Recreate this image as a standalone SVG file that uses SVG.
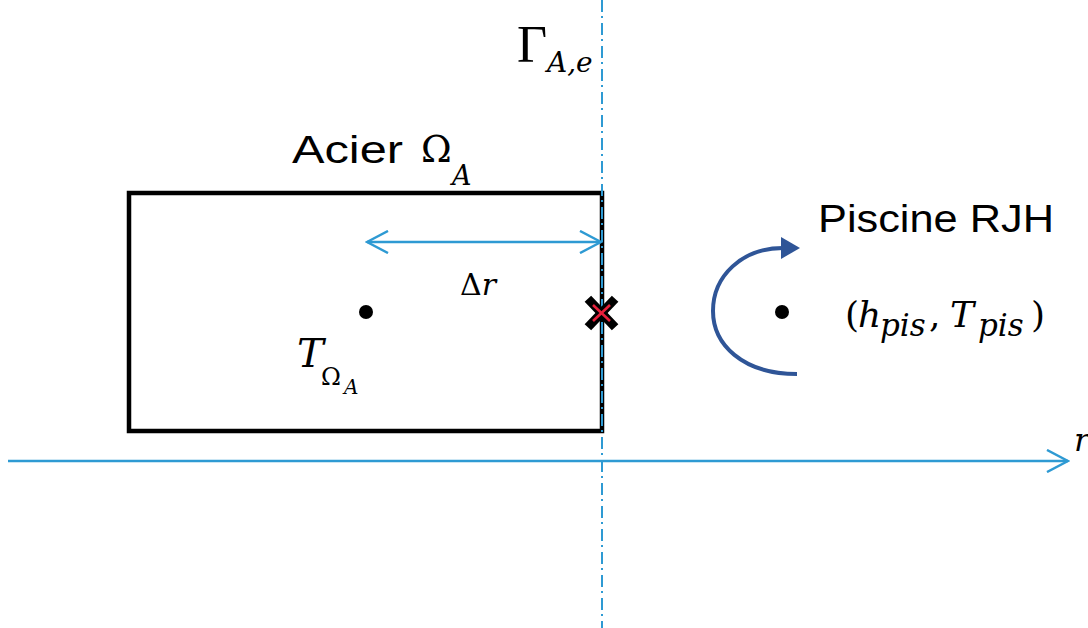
<svg xmlns="http://www.w3.org/2000/svg" width="1088" height="628" viewBox="0 0 1088 628">
<style>
.sans{font-family:"Liberation Sans","Open Sans",Arial,sans-serif;fill:#000}
.m{font-family:"DejaVu Serif","Liberation Serif",serif;fill:#000}
.g{font-family:"Liberation Serif","DejaVu Serif",serif;fill:#000}
.it{font-style:italic}
.ax{stroke:#2E9AD3;fill:none;stroke-width:2.5}
</style>
<defs>
<marker id="open" viewBox="0 0 24 24" refX="22" refY="12" markerWidth="24" markerHeight="24" markerUnits="userSpaceOnUse" orient="auto-start-reverse">
<path d="M1,1 L22,12 L1,23" fill="none" stroke="#2E9AD3" stroke-width="2.5"/>
</marker>
<marker id="tri" viewBox="0 0 20 24" refX="2" refY="12" markerWidth="20" markerHeight="24" markerUnits="userSpaceOnUse" orient="auto">
<path d="M0,1 L19,12 L0,23 Z" fill="#2F5597"/>
</marker>
</defs>
<rect width="1088" height="628" fill="#fff"/>

<g id="domaine-acier">
<rect x="129" y="193" width="473" height="238" fill="none" stroke="#000" stroke-width="4.5"/>
<text class="sans" x="292" y="163" font-size="38" textLength="111" lengthAdjust="spacingAndGlyphs">Acier</text>
<text class="m" x="421" y="162" font-size="37">Ω</text>
<text class="m it" x="452" y="185" font-size="27">A</text>
<circle cx="366" cy="312" r="7" fill="#000"/>
<text class="m it" x="297" y="367" font-size="40">T</text>
<text class="m" x="321" y="385" font-size="24">Ω</text>
<text class="m it" x="344" y="394" font-size="20">A</text>
</g>

<g id="frontiere">
<line x1="602" y1="0" x2="602" y2="628" stroke="#2E9AD3" stroke-width="2" stroke-dasharray="12 4 2 5"/>
<text class="g" x="517" y="62" font-size="52">Γ</text>
<text class="m it" x="547" y="72" font-size="28">A,e</text>
</g>

<g id="point-interface">
<line x1="591" y1="302" x2="612" y2="324" stroke="#000" stroke-width="9" stroke-linecap="square"/>
<line x1="612" y1="302" x2="591" y2="324" stroke="#000" stroke-width="9" stroke-linecap="square"/>
<line x1="593" y1="305" x2="610" y2="321" stroke="#E8203C" stroke-width="2.5"/>
<line x1="610" y1="305" x2="593" y2="321" stroke="#E8203C" stroke-width="2.5"/>
</g>

<g id="piscine">
<text class="sans" x="818" y="232" font-size="38" textLength="236" lengthAdjust="spacingAndGlyphs">Piscine RJH</text>
<circle cx="782" cy="312" r="7" fill="#000"/>
<text class="m" y="327" font-size="36"><tspan x="845">(</tspan><tspan class="it" x="858">h</tspan><tspan class="it" x="880" y="336" font-size="31">pis</tspan><tspan x="929" y="327">,</tspan><tspan class="it" x="950">T</tspan><tspan class="it" x="978" y="336" font-size="31">pis</tspan><tspan x="1031" y="327">)</tspan></text>
</g>

<g id="connecteurs">
<line class="ax" x1="8" y1="461" x2="1068" y2="461" marker-end="url(#open)"/>
<line class="ax" x1="367" y1="242" x2="601" y2="242" marker-start="url(#open)" marker-end="url(#open)"/>
<path d="M797,374 C742,374 713,344 713,311 C713,276 742,248 783,248" fill="none" stroke="#2F5597" stroke-width="4" marker-end="url(#tri)"/>
<text class="m it" x="1074" y="451" font-size="32">r</text>
<text class="m" x="460" y="295" font-size="30">Δ<tspan class="it">r</tspan></text>
</g>
</svg>
